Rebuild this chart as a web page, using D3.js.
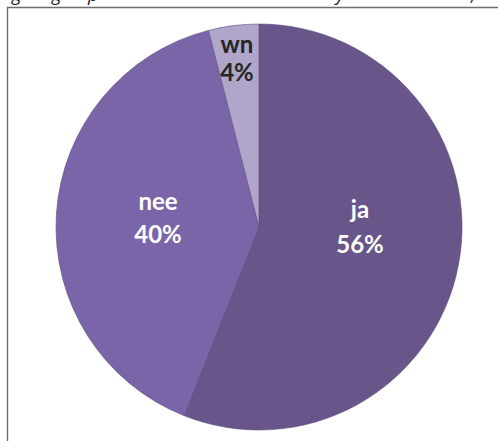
<!DOCTYPE html>
<html><head><meta charset="utf-8">
<script src="https://cdn.jsdelivr.net/npm/d3@7"></script>
<style>html,body{margin:0;padding:0;background:#fff;}svg{display:block;}</style>
</head><body>
<svg id="c" width="498" height="441"></svg>
<script>
const categories = ["ja", "nee", "wn"];
const values = [56, 40, 4];
const colors = ["#68568b", "#7a65a8", "#b0a6c9"];
const labelColors = ["#ffffff", "#ffffff", "#262626"];
const titleFragments = ["g", "g", "p", "y", ","];
const titleFragmentX = [12, 52, 88, 336, 471];

const svg = d3.select("#c");
const W = 498, H = 441;
const cx = 259, cy = 227, R = 203;

// cut-off caption fragments at the top
svg.selectAll("text.cap").data(titleFragments).join("text")
  .attr("class","cap")
  .attr("x",(d,i)=>titleFragmentX[i]).attr("y",1)
  .attr("font-family","'Open Sans', sans-serif").attr("font-style","italic")
  .attr("font-size",18).attr("fill","#222").text(d=>d);

// border box
svg.append("path")
  .attr("d", `M7.5,${H+2} L7.5,7.5 L${W+2},7.5`)
  .attr("fill","none").attr("stroke","#6e6e6e").attr("stroke-width",1.4);

const pie = d3.pie().sort(null).value(d=>d)(values);
const arc = d3.arc().innerRadius(0).outerRadius(R);
const g = svg.append("g").attr("transform",`translate(${cx},${cy})`);

g.selectAll("path").data(pie).join("path")
  .attr("d",arc)
  .attr("fill",(d,i)=>colors[i])
  .attr("stroke","#5b4b7e").attr("stroke-width",0.6);

// label anchor: x offset, name baseline, percent baseline (relative to centre)
const labelX = [101, -101, -22];
const nameY = [-9, -17, -174];
const pctY = [26, 16, -146];
const lab = g.selectAll("g.lab").data(pie).join("g").attr("class","lab")
  .attr("transform",(d,i)=>`translate(${labelX[i]},0)`);
lab.append("text").attr("text-anchor","middle").attr("y",(d,i)=>nameY[i])
  .attr("font-family","Lato, sans-serif").attr("font-weight","bold").attr("font-size",24)
  .attr("fill",(d,i)=>labelColors[i]).text((d,i)=>categories[i]);
lab.append("text").attr("text-anchor","middle").attr("y",(d,i)=>pctY[i])
  .attr("font-family","Lato, sans-serif").attr("font-weight","bold").attr("font-size",24)
  .attr("fill",(d,i)=>labelColors[i]).text((d,i)=>values[i]+"%");
</script>
</body></html>
